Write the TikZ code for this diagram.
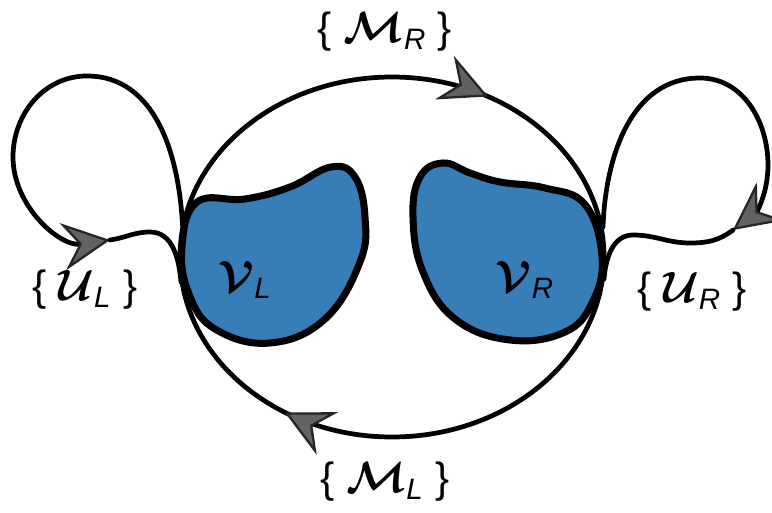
\documentclass[tikz,border=0pt]{standalone}
\usepackage{amsmath}
\usepackage{bm}
\usepackage{fontspec}
\setmainfont{Liberation Sans}
\usepackage{xcolor}
\usepackage{tikz}
\usetikzlibrary{
	arrows.meta,
	decorations.markings
}
\definecolor{blobblue}{RGB}{55,126,184}
\definecolor{tipgray}{RGB}{98,98,98}
\tikzset{
	flowtip/.tip={Stealth[length=9.5mm,width=9.5mm,inset=3.3mm,line width=1.3pt,color=black!85,fill=tipgray]},
	flow/.style={line width=2.7pt, line cap=round},
	blob/.style={line width=4pt, fill=blobblue, line join=round},
	lbl/.style={font=\fontsize{24}{28}\selectfont, inner sep=0pt}
}

\begin{document}
\begin{tikzpicture}
		\useasboundingbox (0,0) rectangle (15.44,10.24);
		% big orbit, clockwise
		\draw[flow, postaction={decorate}, decoration={markings,
			mark=at position 0.08 with {\arrow{flowtip}},
			mark=at position 0.59 with {\arrow{flowtip}}}]
		(7.84,8.70) arc[start angle=90, end angle=-270, x radius=4.24, y radius=3.6];
		% left loop
		\coordinate (lstart) at (3.65,5.74);
		\coordinate (ltop) at (1.74,8.72);
		\coordinate (lleft) at (0.26,7.1);
		\coordinate (ltip) at (2.2,5.44);
		\coordinate (lpeak) at (3.0,5.6);
		\coordinate (lend) at (3.62,4.6);
		\draw[flow, -{flowtip}] (lstart) to[out=93,in=0] (ltop) to[out=180,in=90] (lleft) to[out=-90,in=188] (ltip);
		\draw[flow] (ltip) to[out=8,in=180] (lpeak) to[out=0,in=95] (lend);
		% right loop
		\coordinate (rstart) at (12.06,5.7);
		\coordinate (rtop) at (14.0,8.68);
		\coordinate (rright) at (15.36,6.94);
		\coordinate (rtip) at (14.66,5.64);
		\coordinate (rtrough) at (13.8,5.38);
		\coordinate (rpeak) at (12.66,5.54);
		\coordinate (rend) at (12.08,4.66);
		\draw[flow, -{flowtip}] (rstart) to[out=88,in=180] (rtop) to[out=0,in=90] (rright) to[out=-90,in=37] (rtip);
		\draw[flow] (rtip) to[out=217,in=0] (rtrough) to[out=180,in=0] (rpeak) to[out=180,in=85] (rend);
		% the two regions
		\draw[blob] plot[smooth cycle, tension=0.7] coordinates {
			(3.94,6.2) (4.9,6.26) (5.8,6.5) (6.62,6.9) (7.1,6.7) (7.3,5.9)
			(7.2,5.0) (6.5,3.86) (5.4,3.38) (4.3,3.66) (3.78,4.36) (3.64,5.3)};
		\draw[blob] plot[smooth cycle, tension=0.7] coordinates {
			(8.86,6.98) (8.4,6.7) (8.26,5.9) (8.46,4.8) (9.1,3.86) (10.2,3.44)
			(11.3,3.6) (11.85,4.2) (12.04,5.1) (11.7,6.15) (10.9,6.48) (10.0,6.6) (9.4,6.78)};
		\node[lbl] (vl) at (4.9,4.64) {$\bm{\mathcal{V}}_{\textit{L}}$};
		\node[lbl] (vr) at (10.5,4.64) {$\bm{\mathcal{V}}_{\textit{R}}$};
		\node[lbl] (mr) at (7.7,9.6) {\{ $\bm{\mathcal{M}}_{\textit{R}}$ \}};
		\node[lbl] (ml) at (7.7,0.6) {\{ $\bm{\mathcal{M}}_{\textit{L}}$ \}};
		\node[lbl] (ul) at (1.7,4.44) {\{ $\bm{\mathcal{U}}_{\textit{L}}$ \}};
		\node[lbl] (ur) at (13.84,4.4) {\{ $\bm{\mathcal{U}}_{\textit{R}}$ \}};
	\end{tikzpicture}
\end{document}
